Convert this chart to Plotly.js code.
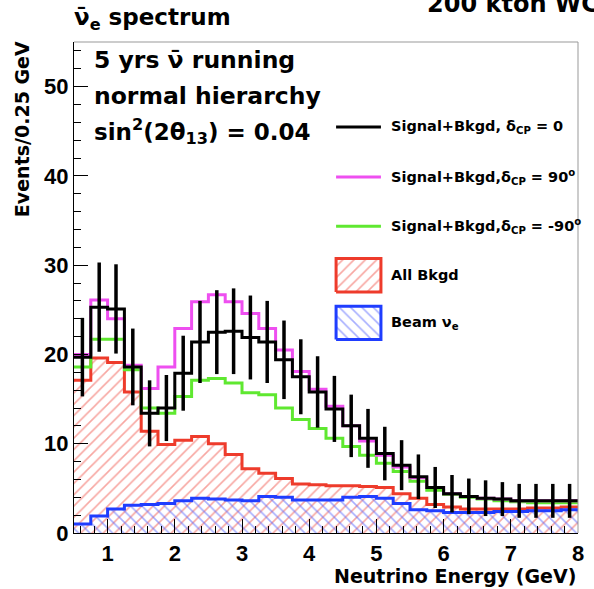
<!DOCTYPE html>
<html>
<head>
<meta charset="utf-8">
<script src="https://cdn.plot.ly/plotly-3.0.1.min.js"></script>
<style>html,body{margin:0;padding:0;background:#fff;}#chart{width:594px;height:589px;}</style>
</head>
<body>
<div id="chart"></div>
<script>
// Bin edges (GeV), 0.25 GeV bins
const binEdges = [0.5,0.75,1.0,1.25,1.5,1.75,2.0,2.25,2.5,2.75,3.0,3.25,3.5,3.75,4.0,4.25,4.5,4.75,5.0,5.25,5.5,5.75,6.0,6.25,6.5,6.75,7.0,7.25,7.5,7.75,8.0];

// Signal+Bkgd, dCP = 0 (black, with error bars)
const sigDcp0 = [19.7,25.3,25.1,18.6,13.4,14.0,17.9,21.4,22.5,22.6,21.9,21.4,19.4,17.5,15.8,13.9,12.0,10.6,8.9,7.6,6.3,5.1,4.4,4.1,3.9,3.8,3.6,3.6,3.6,3.6];
const sigDcp0Err = [4.4,5.0,5.0,4.3,3.7,3.7,4.2,4.6,4.7,4.8,4.7,4.6,4.4,4.2,4.0,3.7,3.5,3.3,3.0,2.8,2.5,2.3,2.1,2.0,2.0,1.9,1.9,1.9,1.9,1.9];
// Signal+Bkgd, dCP = 90 (magenta)
const sigDcp90 = [20.0,26.1,24.0,18.8,16.2,18.6,22.9,25.9,26.7,25.9,24.6,22.9,20.5,18.1,16.1,14.2,12.0,10.3,8.7,7.4,6.2,5.1,4.4,4.1,3.9,3.8,3.6,3.6,3.6,3.6];
// Signal+Bkgd, dCP = -90 (green)
const sigDcpM90 = [18.6,21.7,21.7,18.3,14.0,13.4,15.3,17.1,17.3,16.8,15.7,15.5,14.0,12.7,11.7,10.6,9.7,8.7,7.8,6.9,5.8,4.8,4.3,4.0,3.8,3.6,3.5,3.4,3.4,3.4];
// All background (red hatched)
const allBkgd = [17.1,19.6,19.1,15.8,11.4,9.9,10.4,10.8,10.0,8.8,7.2,6.7,6.1,5.5,5.4,5.3,5.3,5.2,5.1,4.4,3.9,3.2,2.9,2.7,2.7,2.7,2.7,2.8,2.8,2.9];
// Beam nu_e (blue hatched)
const beamNue = [1.0,1.9,2.7,3.1,3.2,3.3,3.6,3.9,3.8,3.7,3.6,4.1,4.0,3.7,3.7,3.7,4.0,4.1,3.9,3.3,2.6,2.5,2.3,2.3,2.3,2.4,2.4,2.5,2.5,2.6];

const xTickVals = [1,2,3,4,5,6,7,8];
const yTickVals = [0,10,20,30,40,50];

const legendLabels = [
  'Signal+Bkgd, δ<sub>CP</sub> = 0',
  'Signal+Bkgd,δ<sub>CP</sub> = 90<sup>o</sup>',
  'Signal+Bkgd,δ<sub>CP</sub> = -90<sup>o</sup>',
  'All Bkgd',
  'Beam ν<sub>e</sub>'
];

const centers = binEdges.slice(0,-1).map((e,i)=> (e + binEdges[i+1]) / 2);
const stepY = arr => arr.concat([arr[arr.length-1]]);

const RED = '#ee3b2b', BLUE = '#1f3dff', MAG = '#ee4ff0', GRN = '#5fe830', BLK = '#000000';
const HATCH_RED = 'rgb(240,80,70)', HATCH_BLUE = 'rgb(80,95,255)';
const FT = 'DejaVu Sans, Verdana, sans-serif';
const FN = 'Liberation Sans, Arial, Helvetica, sans-serif';

function stepTrace(vals, color, extra) {
  return Object.assign({
    type:'scatter', mode:'lines', x: binEdges, y: stepY(vals),
    line:{shape:'hv', color: color, width:3}, hoverinfo:'skip', showlegend:false
  }, extra || {});
}
const pat = (shape, fg) => ({shape:shape, fgcolor:fg, bgcolor:'rgba(0,0,0,0)', size:8, solidity:0.2, fillmode:'overlay'});

const traces = [
  stepTrace(allBkgd, RED, {fill:'tozeroy', fillcolor:'rgba(0,0,0,0)', fillpattern: pat('/', HATCH_RED)}),
  stepTrace(beamNue, BLUE, {fill:'tozeroy', fillcolor:'rgba(0,0,0,0)', fillpattern: pat('\\', HATCH_BLUE)}),
  stepTrace(sigDcpM90, GRN),
  stepTrace(sigDcp90, MAG),
  stepTrace(sigDcp0, BLK),
  {type:'scatter', mode:'markers', x: centers, y: sigDcp0, marker:{size:1, color:BLK},
   error_y:{type:'data', array: sigDcp0Err, visible:true, color:BLK, thickness:3.5, width:0},
   hoverinfo:'skip', showlegend:false}
];

// Legend swatch geometry (plot-area fractions)
const lgX0 = 0.520, lgX1 = 0.609, lgTextX = 0.625;
const lgRowY = [0.827, 0.725, 0.625, 0.525, 0.428];
const lgBoxH = 0.068;
const lineColors = [BLK, MAG, GRN];
const boxSpecs = [
  {color: RED, shape:'/', fg: HATCH_RED},
  {color: BLUE, shape:'\\', fg: HATCH_BLUE}
];
boxSpecs.forEach((b, k) => {
  const yc = lgRowY[3+k];
  traces.push({type:'scatter', mode:'lines', xaxis:'x2', yaxis:'y2',
    x:[lgX0, lgX1, lgX1, lgX0, lgX0], y:[yc-lgBoxH/2, yc-lgBoxH/2, yc+lgBoxH/2, yc+lgBoxH/2, yc-lgBoxH/2],
    fill:'toself', fillcolor:'rgba(0,0,0,0)', line:{color:b.color, width:3},
    fillpattern: pat(b.shape, b.fg), hoverinfo:'skip', showlegend:false});
});

const shapes = [
  {type:'line', xref:'paper', yref:'paper', x0:0, x1:1, y0:1, y1:1, line:{color:'#999', width:1}},
  {type:'line', xref:'paper', yref:'paper', x0:1, x1:1, y0:0, y1:1, line:{color:'#999', width:1}}
];
lineColors.forEach((c, i) => shapes.push({type:'line', xref:'paper', yref:'paper',
  x0:lgX0, x1:lgX1, y0:lgRowY[i], y1:lgRowY[i], line:{color:c, width:3}}));

const bold = (size, fam) => ({family: fam || FT, size:size, color:'#000', weight:'bold'});
const annotations = [
  {text:'ν̄<sub>e</sub> spectrum', xref:'paper', yref:'paper', x:-0.004, y:1.047, xanchor:'left', yanchor:'middle', showarrow:false, font:bold(23)},
  {text:'200 kton WC', xref:'paper', yref:'paper', x:1.046, y:1.078, xanchor:'right', yanchor:'middle', showarrow:false, font:bold(24)},
  {text:'5 yrs ν̄ running', xref:'paper', yref:'paper', x:0.036, y:0.963, xanchor:'left', yanchor:'middle', showarrow:false, font:bold(23.5)},
  {text:'normal hierarchy', xref:'paper', yref:'paper', x:0.036, y:0.890, xanchor:'left', yanchor:'middle', showarrow:false, font:bold(23.5)},
  {text:'sin<sup>2</sup>(2θ<sub>13</sub>) = 0.04', xref:'paper', yref:'paper', x:0.036, y:0.818, xanchor:'left', yanchor:'middle', showarrow:false, font:bold(23)},
  {text:'Events/0.25 GeV', textangle:-90, xref:'paper', yref:'paper', x:-0.104, y:1.005, xanchor:'center', yanchor:'top', showarrow:false, font:bold(19)},
  {text:'Neutrino Energy (GeV)', xref:'paper', yref:'paper', x:1.0, y:-0.087, xanchor:'right', yanchor:'middle', showarrow:false, font:bold(19)}
];
legendLabels.forEach((t, i) => annotations.push({text:t, xref:'paper', yref:'paper', x:lgTextX, y:lgRowY[i],
  xanchor:'left', yanchor:'middle', showarrow:false, font:bold(14.5)}));

const layout = {
  width:594, height:589,
  margin:{l:74, r:16, t:42, b:56},
  paper_bgcolor:'#fff', plot_bgcolor:'#fff',
  showlegend:false,
  xaxis:{range:[0.5,8], tickvals:xTickVals, ticks:'inside', ticklen:14, tickwidth:1, tickcolor:'#000',
    minor:{ticks:'inside', ticklen:7, dtick:0.2, tick0:0, tickcolor:'#000', tickwidth:1},
    showline:true, linecolor:'#000', linewidth:1, showgrid:false, zeroline:false,
    tickfont:bold(22, FN), ticklabelstandoff:1},
  yaxis:{range:[0,55], tickvals:yTickVals, ticks:'inside', ticklen:14, tickwidth:1, tickcolor:'#000',
    minor:{ticks:'inside', ticklen:7, dtick:2, tick0:0, tickcolor:'#000', tickwidth:1},
    showline:true, linecolor:'#000', linewidth:1, showgrid:false, zeroline:false,
    tickfont:bold(22, FN)},
  xaxis2:{range:[0,1], overlaying:'x', anchor:'y2', visible:false, fixedrange:true},
  yaxis2:{range:[0,1], overlaying:'y', anchor:'x2', visible:false, fixedrange:true},
  shapes: shapes,
  annotations: annotations
};

Plotly.newPlot('chart', traces, layout, {displayModeBar:false, staticPlot:true});
</script>
</body>
</html>
